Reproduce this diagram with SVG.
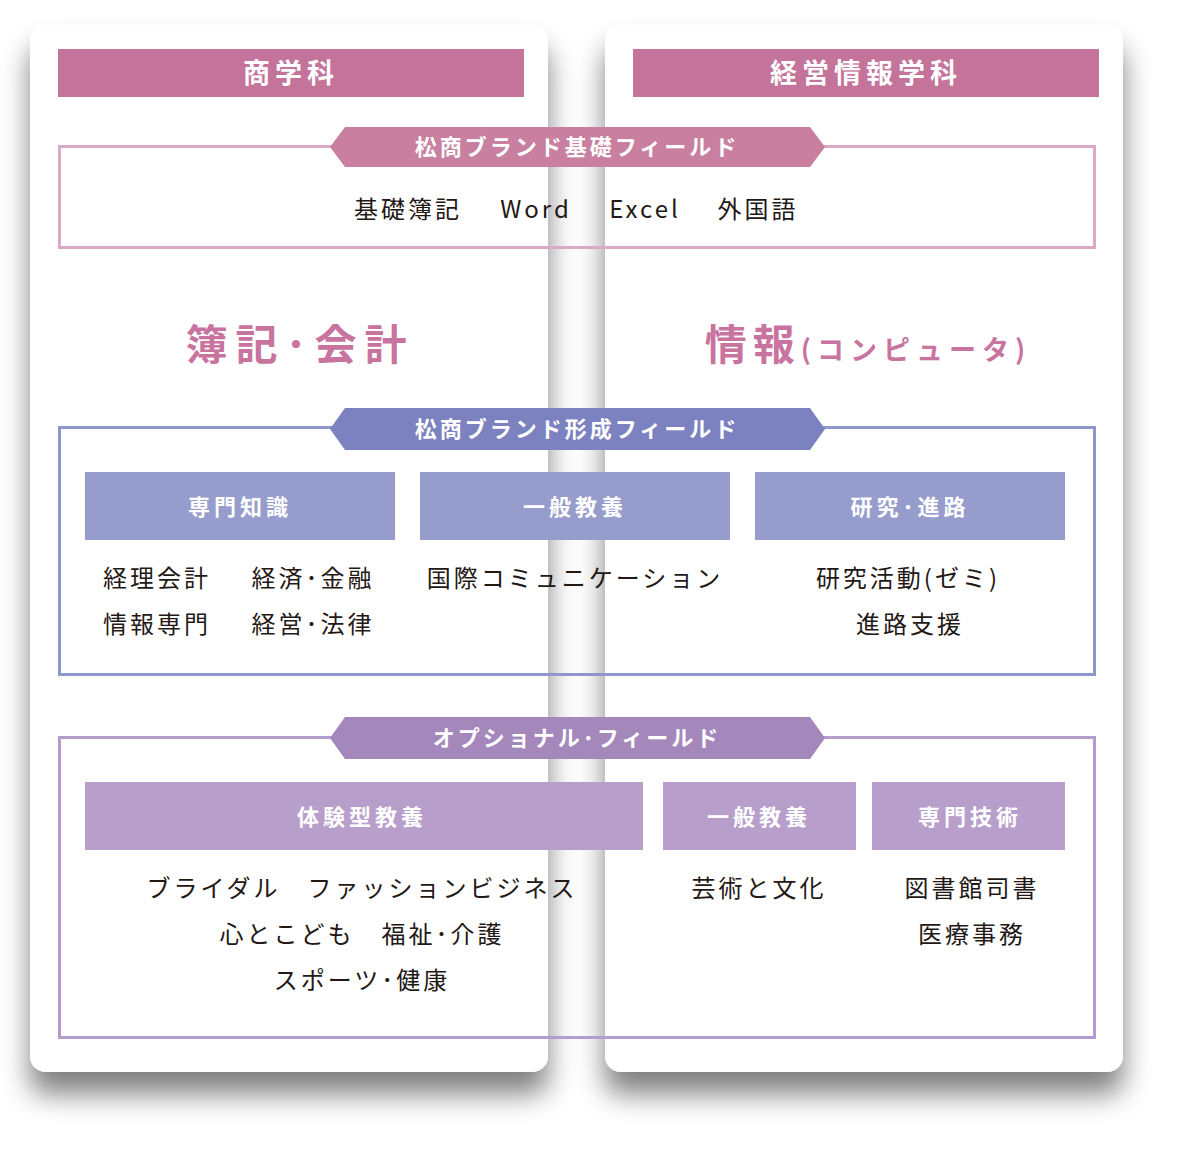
<svg xmlns="http://www.w3.org/2000/svg" width="1200" height="1149" viewBox="0 0 1200 1149">
<defs>
<filter id="sh" x="-20%" y="-20%" width="140%" height="140%">
<feGaussianBlur in="SourceAlpha" stdDeviation="14"/>
<feOffset dx="0" dy="22"/>
<feComponentTransfer><feFuncA type="linear" slope="0.5"/></feComponentTransfer>
<feMerge><feMergeNode/><feMergeNode in="SourceGraphic"/></feMerge>
</filter>
<style>
text{font-family:"Noto Sans CJK JP","Noto Sans",sans-serif;text-anchor:middle}
.hd{fill:#fff;font-size:27px;font-weight:bold;letter-spacing:5px}
.lb{fill:#fff;font-size:22px;font-weight:bold;letter-spacing:3px}
.sb{fill:#fff;font-size:22px;font-weight:bold;letter-spacing:4px}
.t{fill:#231815;font-size:24px;letter-spacing:3px}
.big{fill:#c8749f;font-size:42px;font-weight:bold;letter-spacing:8px}
</style>
</defs>
<g id="cards" filter="url(#sh)">
<rect x="30" y="25" width="518" height="1047" rx="16" fill="#fff"/>
<rect x="605" y="25" width="518" height="1047" rx="16" fill="#fff"/>
</g>
<g id="head-left"><rect x="58" y="49" width="466" height="48" fill="#c4739a"/><text class="hd" x="291" y="83">商学科</text></g>
<g id="head-right"><rect x="633" y="49" width="466" height="48" fill="#c4739a"/><text class="hd" x="866" y="83">経営情報学科</text></g>

<g id="sec1">
<rect x="59.5" y="146.5" width="1035" height="101" fill="none" stroke="#dca9c4" stroke-width="3"/>
<polygon points="330,147 345,127 810,127 825,147 810,167 345,167" fill="#c87fa0"/>
<text class="lb" x="577" y="155">松商ブランド基礎フィールド</text>
<text class="t" x="408" y="218">基礎簿記</text>
<text class="t" x="536" y="218">Word</text>
<text class="t" x="645" y="218">Excel</text>
<text class="t" x="758" y="218">外国語</text>
</g>

<g id="mid">
<text class="big" x="300" y="360">簿記･会計</text>
<text x="868" y="360" fill="#c8749f" font-weight="bold" style="letter-spacing:6px"><tspan font-size="42">情報</tspan><tspan font-size="27">(コンピュータ)</tspan></text>
</g>

<g id="sec2">
<rect x="59.5" y="427.5" width="1035" height="247" fill="none" stroke="#8f96cc" stroke-width="3"/>
<polygon points="330,429 345,408 810,408 825,429 810,450 345,450" fill="#7c82bf"/>
<text class="lb" x="577" y="437">松商ブランド形成フィールド</text>
<g id="s2a"><rect x="85" y="472" width="310" height="68" fill="#969dcc"/><text class="sb" x="240" y="515">専門知識</text></g>
<g id="s2b"><rect x="420" y="472" width="310" height="68" fill="#969dcc"/><text class="sb" x="575" y="515">一般教養</text></g>
<g id="s2c"><rect x="755" y="472" width="310" height="68" fill="#969dcc"/><text class="sb" x="910" y="515">研究･進路</text></g>
<text class="t" x="157" y="587">経理会計</text>
<text class="t" x="313" y="587">経済･金融</text>
<text class="t" x="157" y="633">情報専門</text>
<text class="t" x="313" y="633">経営･法律</text>
<text class="t" x="575" y="587">国際コミュニケーション</text>
<text class="t" x="908" y="587">研究活動(ゼミ)</text>
<text class="t" x="910" y="633">進路支援</text>
</g>

<g id="sec3">
<rect x="59.5" y="737.5" width="1035" height="300" fill="none" stroke="#b49ccc" stroke-width="3"/>
<polygon points="330,738 345,717 810,717 825,738 810,759 345,759" fill="#a487bb"/>
<text class="lb" x="577" y="746">オプショナル･フィールド</text>
<g id="s3a"><rect x="85" y="782" width="558" height="68" fill="#b89fcb"/><text class="sb" x="362" y="825">体験型教養</text></g>
<g id="s3b"><rect x="663" y="782" width="193" height="68" fill="#b89fcb"/><text class="sb" x="759" y="825">一般教養</text></g>
<g id="s3c"><rect x="872" y="782" width="193" height="68" fill="#b89fcb"/><text class="sb" x="970" y="825">専門技術</text></g>
<text class="t" x="362" y="897">ブライダル　ファッションビジネス</text>
<text class="t" x="362" y="943">心とこども　福祉･介護</text>
<text class="t" x="362" y="989">スポーツ･健康</text>
<text class="t" x="759" y="897">芸術と文化</text>
<text class="t" x="972" y="897">図書館司書</text>
<text class="t" x="972" y="943">医療事務</text>
</g>
</svg>
